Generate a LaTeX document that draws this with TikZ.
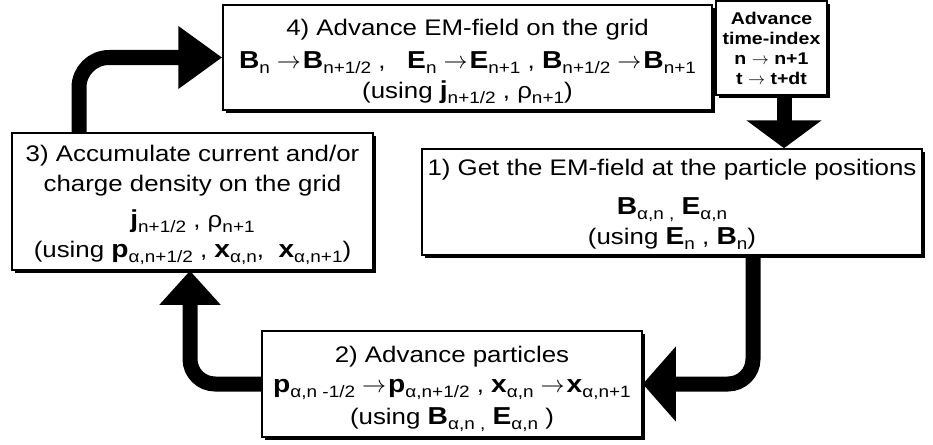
\RequirePackage{fix-cm}
\documentclass[tikz,border=0pt]{standalone}
\usepackage{fontspec}
\setmainfont{Liberation Sans}[FakeStretch=1.15]
\usetikzlibrary{arrows.meta,shadows,calc}
\newcommand{\vecb}[1]{{\fontsize{24.5}{24.5}\selectfont\bfseries #1}}
\newcommand{\sbx}[1]{\raisebox{-5pt}{\fontsize{16.5}{16.5}\selectfont #1}}
\newcommand{\ra}{\hspace{7pt}{\fontsize{24}{24}\selectfont\ensuremath{\rightarrow}}\hspace{2pt}}
\newcommand{\rs}{\ {\fontsize{17}{17}\selectfont\ensuremath{\rightarrow}}\ }
\newcommand{\topup}[1]{\rule{0pt}{#1}}
\tikzset{
  pbox/.style={draw, line width=1.5pt, fill=white, align=center, inner sep=0pt,
    font=\fontsize{22.5}{30}\selectfont,
    drop shadow={shadow xshift=3pt, shadow yshift=-3pt, fill=black, opacity=1}},
  flow/.style={line width=15pt},
}
\begin{document}
\begin{tikzpicture}[x=1pt,y=-1pt]
\useasboundingbox (0,0) rectangle (933,444);
\node[pbox, minimum width=489pt, minimum height=105pt] (box4) at (467.5,57.5)
 {\topup{24pt}4) Advance EM-field on the grid\\[3pt]
  \vecb{B}\sbx{n}\ra\vecb{B}\sbx{n+1/2} ,\ \ \ \vecb{E}\sbx{n}\ra\vecb{E}\sbx{n+1} , \vecb{B}\sbx{n+1/2}\ra\vecb{B}\sbx{n+1}\\
  (using \vecb{j}\sbx{n+1/2} , ρ\sbx{n+1})};
\node[pbox, minimum width=111pt, minimum height=94pt, font=\fontsize{17}{20}\selectfont\bfseries] (time) at (771.5,48)
 {Advance\\time-index\\n\rs n+1\\t\rs t+dt};
\node[pbox, minimum width=500pt, minimum height=106pt] (box1) at (672,202)
 {\topup{20pt}1) Get the EM-field at the particle positions\\[9pt]
  \vecb{B}\sbx{α,n ,} \vecb{E}\sbx{α,n}\\
  (using \vecb{E}\sbx{n} , \vecb{B}\sbx{n})};
\node[pbox, minimum width=380pt, minimum height=106pt] (box2) at (452,384)
 {\topup{27pt}2) Advance particles\\
  \vecb{p}\sbx{α,n -1/2}\ra\vecb{p}\sbx{α,n+1/2} , \vecb{x}\sbx{α,n}\ra\vecb{x}\sbx{α,n+1}\\[2pt]
  (using \vecb{B}\sbx{α,n ,} \vecb{E}\sbx{α,n} )};
\node[pbox, minimum width=361pt, minimum height=137pt] (box3) at (192.5,201.5)
 {\topup{24pt}3) Accumulate current and/or\\
  charge density on the grid\\[6pt]
  \vecb{j}\sbx{n+1/2} , ρ\sbx{n+1}\\
  (using \vecb{p}\sbx{α,n+1/2} , \vecb{x}\sbx{α,n},\ \ \vecb{x}\sbx{α,n+1})};
\coordinate (c34) at (79,0);
\coordinate (ct1) at (784,0);
\coordinate (c12) at (753,0);
\coordinate (c23) at (190,0);
\draw[flow, rounded corners=30pt, -{Triangle[length=44pt,width=60pt]}]
  (box3.north -| c34) |- (box4.west);
\draw[line width=13pt] (box4.east) -- (box4.east -| time.west);
\draw[flow, -{Triangle[length=28pt,width=74pt]}] (time.south -| ct1) -- (box1.north -| ct1);
\draw[flow, rounded corners=25pt, -{Triangle[length=33pt,width=73pt]}]
  (box1.south -| c12) |- (box2.east);
\draw[flow, rounded corners=25pt, -{Triangle[length=34pt,width=59pt]}]
  (box2.west) -| (box3.south -| c23);
\end{tikzpicture}
\end{document}
